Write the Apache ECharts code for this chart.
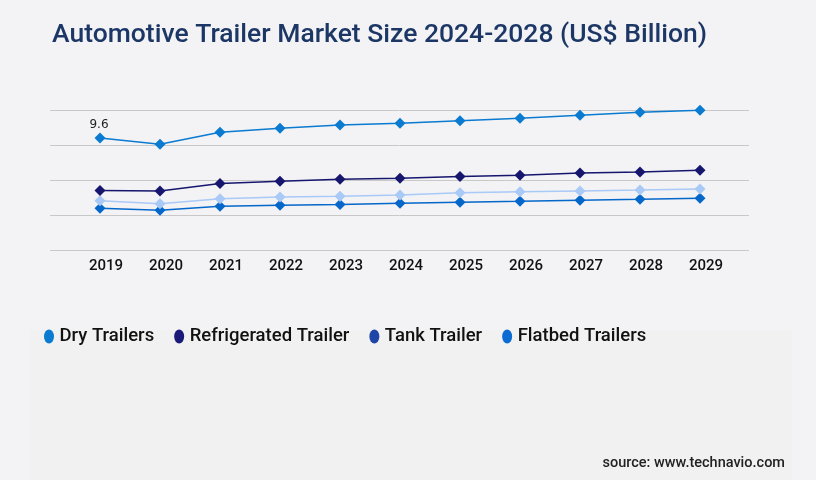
<!DOCTYPE html>
<html>
<head>
<meta charset="utf-8">
<script src="https://cdn.jsdelivr.net/npm/echarts@6/dist/echarts.min.js"></script>
<style>
html,body{margin:0;padding:0;background:#f3f3f5;}
#chart{width:816px;height:480px;}
</style>
</head>
<body>
<div id="chart"></div>
<script>
var years = ['2019','2020','2021','2022','2023','2024','2025','2026','2027','2028','2029'];
var seriesNames = ['Dry Trailers','Refrigerated Trailer','Tank Trailer','Flatbed Trailers'];
var dryTrailers = [9.6, 9.06, 10.09, 10.43, 10.71, 10.86, 11.08, 11.29, 11.54, 11.80, 11.97];
var refrigeratedTrailer = [5.11, 5.06, 5.71, 5.89, 6.06, 6.14, 6.31, 6.40, 6.60, 6.69, 6.83];
var tankTrailer = [4.23, 3.97, 4.40, 4.54, 4.60, 4.71, 4.91, 5.00, 5.06, 5.14, 5.23];
var flatbedTrailers = [3.57, 3.40, 3.74, 3.83, 3.91, 4.00, 4.09, 4.17, 4.26, 4.34, 4.43];
var yTicks = {min: 0, max: 12, interval: 3};

var lineColors = ['#0a7bd0', '#16166e', '#a9c9f7', '#0567c9'];
var legendColors = ['#0a7bd0', '#1a1a78', '#1f45a6', '#0a6cd2'];
var allData = [dryTrailers, refrigeratedTrailer, tankTrailer, flatbedTrailers];

var chart = echarts.init(document.getElementById('chart'));
var ellipse = 'path://M0,7A5,7 0 1,1 10,7A5,7 0 1,1 0,7Z';

var series = seriesNames.map(function(name, k){
  var vals = allData[k];
  return {
    name: name,
    type: 'line',
    xAxisIndex: 0,
    yAxisIndex: 0,
    symbol: 'diamond',
    symbolSize: 11,
    z: 10 - k,
    lineStyle: {width: 1.5, color: lineColors[k]},
    itemStyle: {color: lineColors[k]},
    data: vals.map(function(v, i){
      if (k === 0 && i === 0) {
        return {value: v, label: {show: true, position: 'top', distance: 2, offset: [-1, 0],
          formatter: '{c}', fontFamily: 'DejaVu Sans', fontSize: 12, color: '#222'}};
      }
      return v;
    })
  };
});

chart.setOption({
  backgroundColor: '#f3f3f5',
  animation: false,
  graphic: [{
    type: 'rect', z: -10, silent: true,
    shape: {x: 30, y: 330, width: 762, height: 150},
    style: {fill: '#f1f1f2'}
  }, {
    type: 'text', right: 31, top: 456,
    style: {text: 'source: www.technavio.com', fontFamily: 'Roboto', fontSize: 14.5,
      fontWeight: 500, fill: '#222'}
  }],
  title: {
    text: 'Automotive Trailer Market Size 2024-2028 (US$ Billion)',
    left: 47, top: 17,
    textStyle: {fontFamily: 'Roboto', fontSize: 26.5, fontWeight: 500, color: '#1c3766'}
  },
  legend: {
    left: 39, top: 322,
    itemWidth: 11, itemHeight: 14, itemGap: 20,
    icon: ellipse,
    textStyle: {fontFamily: 'Roboto', fontSize: 18.5, fontWeight: 500, color: '#111'},
    data: seriesNames.map(function(n, k){
      return {name: n, itemStyle: {color: legendColors[k]}};
    })
  },
  grid: [
    {left: 100, right: 116, top: 110, bottom: 230},
    {left: 50, right: 67, top: 110, bottom: 230}
  ],
  xAxis: [
    {type: 'category', gridIndex: 0, data: years, boundaryGap: false,
     axisLine: {show: false}, axisTick: {show: false},
     axisLabel: {margin: 9, padding: [0, 0, 0, 12], fontFamily: 'Roboto', fontSize: 15, fontWeight: 500, color: '#111'}},
    {type: 'category', gridIndex: 1, data: years, show: false}
  ],
  yAxis: [
    {type: 'value', gridIndex: 0, min: yTicks.min, max: yTicks.max, interval: yTicks.interval,
     axisLabel: {show: false}, axisLine: {show: false}, axisTick: {show: false}, splitLine: {show: false}},
    {type: 'value', gridIndex: 1, min: yTicks.min, max: yTicks.max, interval: yTicks.interval,
     axisLabel: {show: false}, axisLine: {show: false}, axisTick: {show: false},
     splitLine: {show: true, lineStyle: {color: '#c8c8c8', width: 1}}}
  ],
  series: series.concat([{
    type: 'line', xAxisIndex: 1, yAxisIndex: 1, data: [], silent: true
  }])
});
</script>
</body>
</html>
